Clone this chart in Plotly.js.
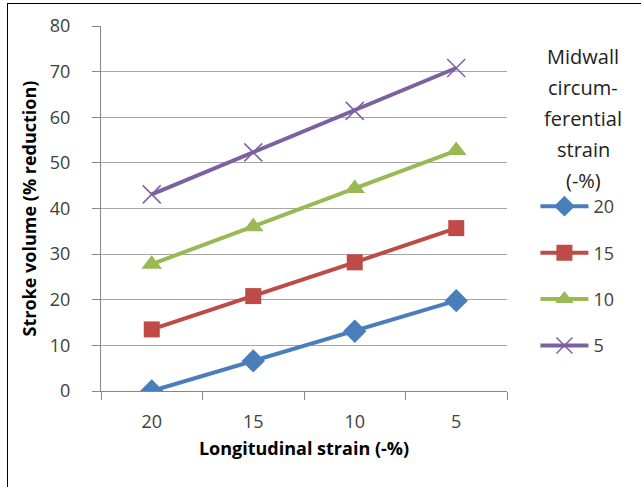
<!DOCTYPE html>
<html>
<head>
<meta charset="utf-8">
<script src="https://cdn.plot.ly/plotly-3.0.1.min.js"></script>
<style>
html,body{margin:0;padding:0;background:#fff;}
#wrap{position:relative;width:641px;height:487px;overflow:hidden;}
#frame{position:absolute;left:7px;top:3px;width:700px;height:600px;border-left:1.5px solid #000;border-top:1.5px solid #000;pointer-events:none;}
#chart{position:absolute;left:0;top:0;width:641px;height:487px;}
</style>
</head>
<body>
<div id="wrap"><div id="chart"></div><div id="frame"></div></div>
<script>
var categories = ["20", "15", "10", "5"];
var seriesNames = ["20", "15", "10", "5"];
var sv20 = [0, 6.6, 13.1, 19.8];
var sv15 = [13.5, 20.8, 28.2, 35.7];
var sv10 = [27.8, 36.0, 44.4, 52.7];
var sv5 = [43.1, 52.3, 61.4, 70.8];
var yTicks = [0, 10, 20, 30, 40, 50, 60, 70, 80];
var legendTitleLines = ["Midwall", "circum-", "ferential", "strain", "(-%)"];

var FONT = "Open Sans, sans-serif";
var TXT = "#404040";
var colors = ["#4A7EBB", "#BE4B48", "#98B954", "#7D60A0"];
var symbols = ["diamond", "square", "triangle-up", "x-thin-open"];
var sizes = [18, 16, 18, 18];
var allVals = [sv20, sv15, sv10, sv5];

var traces = allVals.map(function (v, i) {
  return {
    x: categories, y: v, name: seriesNames[i], type: "scatter", mode: "lines+markers",
    legendgroup: "g" + i,
    line: {color: colors[i], width: 4},
    marker: {symbol: symbols[i], size: sizes[i], color: colors[i],
             line: {color: colors[i], width: i === 3 ? 1.5 : 0}}
  };
});

var annotations = legendTitleLines.map(function (t, i) {
  return {text: t, xref: "paper", yref: "paper", x: (583 - 101) / 406, y: 1 - (57 + i * 31 - 26) / 365,
          xanchor: "center", yanchor: "middle", showarrow: false,
          font: {family: FONT, size: 20, color: "#222"}};
});

var layout = {
  width: 641, height: 487,
  margin: {l: 101, r: 134, t: 26, b: 96},
  paper_bgcolor: "#fff", plot_bgcolor: "#fff",
  showlegend: true,
  legend: {x: 1.07, xanchor: "left", y: 0.315, yanchor: "middle", itemwidth: 48,
           font: {family: FONT, size: 18, color: TXT}, tracegroupgap: 20,
           bgcolor: "rgba(0,0,0,0)"},
  annotations: annotations,
  xaxis: {
    type: "category", range: [-0.5, 3.5], tickson: "boundaries", ticks: "outside", ticklen: 8, tickcolor: "#868686",
    showline: true, linecolor: "#868686", linewidth: 1, showgrid: false, zeroline: false,
    tickfont: {family: FONT, size: 18, color: TXT}, ticklabelstandoff: 14,
    title: {text: "<b>Longitudinal strain (-%)</b>", font: {family: FONT, size: 18, color: "#000"}, standoff: 10}
  },
  yaxis: {
    range: [0, 80], tickvals: yTicks, ticks: "outside", ticklen: 8, tickcolor: "#868686",
    showline: true, linecolor: "#868686", linewidth: 1,
    showgrid: true, gridcolor: "#A6A6A6", gridwidth: 1, zeroline: false,
    tickfont: {family: FONT, size: 18, color: TXT}, ticklabelstandoff: 18,
    title: {text: "<b>Stroke volume (% reduction)</b>", font: {family: FONT, size: 18, color: "#000"}, standoff: 8}
  }
};

Plotly.newPlot("chart", traces, layout, {displayModeBar: false, staticPlot: true});
</script>
</body>
</html>
